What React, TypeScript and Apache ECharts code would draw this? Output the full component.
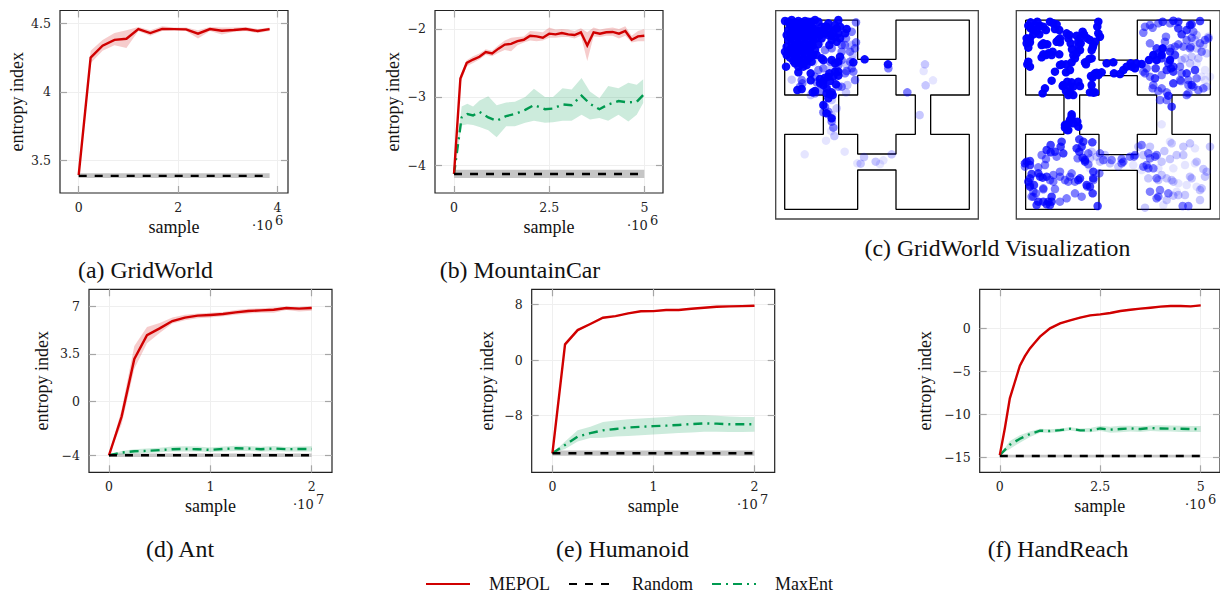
import React, { useEffect, useRef } from "react";
import * as echarts from "echarts";

const RED = "#d00000";
const GREEN = "#009a50";
const SERIF = "'Liberation Serif', serif";
const TICKFONT = "'DejaVu Serif', serif";

// (a) GridWorld
const aX = [0, 0.24, 0.48, 0.72, 0.96, 1.2, 1.44, 1.68, 1.92, 2.16, 2.4, 2.64, 2.88, 3.12, 3.36, 3.6, 3.84];
const aRed = [3.39, 4.25, 4.337, 4.38, 4.388, 4.459, 4.43, 4.46, 4.459, 4.457, 4.425, 4.459, 4.447, 4.452, 4.46, 4.445, 4.459];
const aRedLow = [3.39, 4.21, 4.3, 4.34, 4.32, 4.445, 4.41, 4.445, 4.45, 4.445, 4.39, 4.445, 4.42, 4.44, 4.445, 4.43, 4.445];
const aRedHigh = [3.39, 4.3, 4.38, 4.43, 4.45, 4.475, 4.45, 4.48, 4.47, 4.47, 4.45, 4.475, 4.47, 4.47, 4.475, 4.46, 4.47];
const aRandom = 3.385;
const aRandomBand = [3.37, 3.405];

// (b) MountainCar
const bX = [0, 0.167, 0.333, 0.5, 0.667, 0.833, 1, 1.167, 1.333, 1.5, 1.667, 1.833, 2, 2.167, 2.333, 2.5, 2.667, 2.833, 3, 3.167, 3.333, 3.5, 3.667, 3.833, 4, 4.167, 4.333, 4.5, 4.667, 4.833, 5];
const bRed = [-4.13, -2.73, -2.5, -2.45, -2.41, -2.34, -2.36, -2.29, -2.23, -2.22, -2.18, -2.16, -2.1, -2.11, -2.13, -2.07, -2.08, -2.06, -2.08, -2.09, -2.05, -2.245, -2.05, -2.07, -2.05, -2.045, -2.07, -2.03, -2.16, -2.11, -2.1];
const bRedLow = [-4.13, -2.8, -2.55, -2.5, -2.45, -2.38, -2.4, -2.35, -2.31, -2.33, -2.24, -2.2, -2.17, -2.18, -2.17, -2.13, -2.13, -2.12, -2.12, -2.14, -2.1, -2.47, -2.11, -2.12, -2.1, -2.1, -2.14, -2.1, -2.2, -2.18, -2.18];
const bRedHigh = [-4.13, -2.68, -2.46, -2.4, -2.36, -2.3, -2.32, -2.24, -2.17, -2.13, -2.12, -2.11, -2.03, -2.04, -2.05, -1.98, -2.01, -2, -2.01, -2.03, -1.99, -2.05, -1.98, -2.01, -1.99, -1.98, -2, -1.96, -2.1, -2.03, -2];
const bGreenX = [0, 0.2, 0.35, 0.5, 0.67, 0.9, 1.12, 1.37, 1.6, 1.87, 2.1, 2.39, 2.6, 2.85, 3.09, 3.35, 3.57, 3.82, 4.05, 4.32, 4.58, 4.8, 4.97];
const bGreen = [-4.13, -3.3, -3.25, -3.27, -3.22, -3.3, -3.35, -3.28, -3.25, -3.19, -3.12, -3.18, -3.17, -3.11, -3.12, -2.98, -3.1, -3.18, -3.11, -3.06, -3.08, -3.07, -2.97];
const bGreenLow = [-4.13, -3.42, -3.4, -3.41, -3.44, -3.49, -3.59, -3.43, -3.43, -3.38, -3.35, -3.38, -3.37, -3.35, -3.35, -3.26, -3.33, -3.31, -3.35, -3.26, -3.36, -3.26, -3.09];
const bGreenHigh = [-4.13, -3.14, -3.1, -3.14, -3.05, -2.99, -3.12, -3.08, -3.07, -3, -2.88, -3, -3, -2.87, -2.89, -2.72, -2.92, -3.02, -2.84, -2.87, -2.79, -2.82, -2.74];
const bRandom = -4.13;
const bRandomBand = [-4.19, -4.07];

// (d) Ant
const dX = [0, 0.125, 0.25, 0.375, 0.5, 0.625, 0.75, 0.875, 1, 1.125, 1.25, 1.375, 1.5, 1.625, 1.75, 1.875, 2];
const dRed = [-4, -1.13, 3.13, 4.9, 5.4, 5.94, 6.19, 6.34, 6.39, 6.46, 6.58, 6.68, 6.73, 6.78, 6.9, 6.86, 6.9];
const dRedLow = [-4, -1.7, 2.4, 4.3, 5.05, 5.75, 6, 6.15, 6.2, 6.3, 6.4, 6.5, 6.55, 6.55, 6.75, 6.65, 6.7];
const dRedHigh = [-4, -0.6, 4.1, 5.5, 5.8, 6.2, 6.4, 6.5, 6.55, 6.6, 6.75, 6.85, 6.88, 6.95, 7, 6.98, 7.05];
const dGreen = [-4, -3.8, -3.7, -3.67, -3.62, -3.55, -3.53, -3.55, -3.6, -3.53, -3.48, -3.5, -3.55, -3.5, -3.55, -3.53, -3.53];
const dGreenLow = [-4, -3.95, -3.87, -3.83, -3.78, -3.72, -3.72, -3.72, -3.75, -3.72, -3.68, -3.68, -3.72, -3.7, -3.72, -3.72, -3.72];
const dGreenHigh = [-4, -3.68, -3.55, -3.5, -3.45, -3.35, -3.33, -3.35, -3.42, -3.35, -3.3, -3.32, -3.37, -3.32, -3.38, -3.35, -3.33];
const dRandom = -4;
const dRandomBand = [-4.13, -3.87];

// (e) Humanoid
const eX = dX;
const eRed = [-13.4, 2.25, 4.3, 5.17, 6.08, 6.3, 6.7, 7, 7.03, 7.18, 7.18, 7.37, 7.5, 7.66, 7.7, 7.75, 7.8];
const eRedLow = [-13.4, 2.0, 4.15, 5.05, 5.98, 6.2, 6.6, 6.9, 6.93, 7.08, 7.08, 7.27, 7.4, 7.56, 7.6, 7.65, 7.7];
const eRedHigh = [-13.4, 2.5, 4.45, 5.3, 6.18, 6.4, 6.8, 7.1, 7.13, 7.28, 7.28, 7.47, 7.6, 7.76, 7.8, 7.85, 7.9];
const eGreen = [-13.4, -12.2, -11, -10.5, -10.1, -9.9, -9.7, -9.6, -9.5, -9.43, -9.33, -9.2, -9.1, -9.14, -9.23, -9.23, -9.23];
const eGreenLow = [-13.4, -12.8, -11.7, -11.2, -11.15, -11, -10.9, -10.8, -10.7, -10.6, -10.5, -10.4, -10.3, -10.3, -10.35, -10.35, -10.3];
const eGreenHigh = [-13.4, -11.7, -10.1, -9.6, -8.9, -8.7, -8.5, -8.4, -8.3, -8.2, -8, -7.95, -7.95, -8, -8.1, -8.2, -8.2];
const eRandom = -13.4;
const eRandomBand = [-13.75, -13.0];

// (f) HandReach
const fX = [0, 0.125, 0.25, 0.375, 0.5, 0.625, 0.75, 0.875, 1, 1.25, 1.5, 1.75, 2, 2.25, 2.5, 2.75, 3, 3.25, 3.5, 3.75, 4, 4.25, 4.5, 4.75, 5];
const fRed = [-14.7, -11.6, -8.1, -6.2, -4.3, -3.2, -2.3, -1.6, -0.93, 0.04, 0.62, 0.97, 1.28, 1.55, 1.67, 1.82, 2.05, 2.2, 2.33, 2.44, 2.56, 2.64, 2.64, 2.6, 2.71];
const fRedLow = [-14.7, -11.75, -8.25, -6.35, -4.45, -3.35, -2.45, -1.72, -1.05, -0.06, 0.52, 0.87, 1.18, 1.45, 1.57, 1.72, 1.95, 2.1, 2.23, 2.34, 2.46, 2.54, 2.54, 2.5, 2.61];
const fRedHigh = [-14.7, -11.45, -7.95, -6.05, -4.15, -3.05, -2.15, -1.48, -0.81, 0.14, 0.72, 1.07, 1.38, 1.65, 1.77, 1.92, 2.15, 2.3, 2.43, 2.54, 2.66, 2.74, 2.74, 2.7, 2.81];
const fGreenX = [0, 0.25, 0.5, 0.75, 1, 1.25, 1.5, 1.75, 2, 2.25, 2.5, 2.75, 3, 3.25, 3.5, 3.75, 4, 4.25, 4.5, 4.75, 5];
const fGreen = [-14.7, -13.5, -12.8, -12.25, -11.86, -11.9, -11.8, -11.63, -11.82, -11.82, -11.6, -11.74, -11.67, -11.6, -11.67, -11.55, -11.6, -11.63, -11.63, -11.67, -11.67];
const fGreenLow = [-14.7, -14, -13.25, -12.6, -12.1, -12.1, -12, -11.85, -12.02, -12.05, -11.9, -12.1, -12.05, -11.95, -12, -11.9, -11.95, -11.95, -12, -12, -12];
const fGreenHigh = [-14.7, -13.05, -12.4, -11.95, -11.65, -11.7, -11.6, -11.45, -11.62, -11.55, -11.3, -11.4, -11.3, -11.3, -11.35, -11.25, -11.22, -11.25, -11.28, -11.32, -11.32];
const fRandom = -14.8;
const fRandomBand = [-14.95, -14.65];

// (c) GridWorld room walls
const wallsLeftOuter = [[44, 45], [263, 45], [263, 163], [378, 163], [378, 45], [598, 45], [598, 270], [482, 270], [482, 388], [598, 388], [598, 613], [378, 613], [378, 495], [263, 495], [263, 613], [44, 613], [44, 388], [160, 388], [160, 270], [44, 270], [44, 45]];
const wallsLeftInner = [[263, 211], [378, 211], [378, 270], [436, 270], [436, 388], [378, 388], [378, 447], [263, 447], [263, 388], [206, 388], [206, 270], [263, 270], [263, 211]];
const wallsRightOuter = [[47, 45], [267, 45], [267, 165], [382, 165], [382, 45], [601, 45], [601, 270], [486, 270], [486, 388], [601, 388], [601, 613], [382, 613], [382, 496], [267, 496], [267, 613], [47, 613], [47, 388], [162, 388], [162, 270], [47, 270], [47, 45]];
const wallsRightInner = [[267, 212], [382, 212], [382, 270], [440, 270], [440, 388], [382, 388], [382, 449], [267, 449], [267, 388], [209, 388], [209, 270], [267, 270], [267, 212]];

const leftDense = [[45, 48], [65, 45], [85, 48], [105, 48], [135, 45], [60, 60], [80, 60], [100, 60], [120, 62], [55, 75], [75, 75], [95, 75], [115, 78], [135, 72], [50, 90], [70, 92], [90, 90], [110, 92], [130, 90], [55, 105], [75, 108], [95, 105], [115, 108], [130, 105], [50, 125], [70, 125], [90, 122], [110, 125], [128, 122], [45, 140], [62, 142], [82, 140], [100, 142], [120, 140], [60, 158], [80, 158], [100, 160], [120, 158], [75, 175], [95, 178], [110, 180], [48, 185], [140, 150], [155, 65], [175, 55], [195, 60], [205, 45], [165, 85], [180, 75], [200, 70], [185, 92], [205, 85], [150, 90], [230, 72], [160, 165], [185, 165], [205, 170], [85, 202], [122, 205], [122, 226], [150, 222], [165, 218], [178, 205], [195, 200], [205, 212], [198, 238], [160, 240], [180, 268], [170, 265], [188, 270], [128, 262], [82, 255], [95, 252], [250, 172], [284, 163], [354, 178],
  [55, 50], [75, 52], [95, 52], [115, 50], [125, 50], [145, 50], [165, 65], [70, 68], [90, 68], [110, 68], [128, 68], [145, 78], [60, 84], [80, 84], [100, 84], [120, 84], [140, 84], [60, 98], [85, 98], [105, 98], [125, 98], [140, 100], [65, 115], [85, 115], [105, 115], [125, 115], [145, 118], [60, 133], [80, 132], [100, 132], [120, 132], [135, 135], [50, 150], [72, 150], [92, 150], [112, 150], [130, 150], [70, 168], [90, 168], [110, 168], [125, 170], [85, 185], [100, 185], [155, 160], [160, 75], [175, 90], [190, 78], [195, 95], [210, 65], [170, 65], [155, 100], [185, 105], [210, 100], [225, 85], [200, 110], [178, 120], [195, 175], [210, 155], [150, 235], [160, 228], [175, 215], [205, 200], [190, 215], [180, 228], [135, 258], [170, 250], [175, 280], [185, 262], [160, 300], [170, 325], [185, 340]];
const leftMedium = [[245, 80], [258, 52], [228, 100], [165, 135], [185, 130], [215, 140], [215, 120], [258, 112], [205, 180], [230, 198], [250, 200], [255, 225], [140, 232], [97, 235], [215, 245], [150, 258], [165, 305], [160, 322], [175, 320], [185, 350], [190, 368], [355, 190], [412, 262],
  [225, 120], [240, 140], [255, 130], [215, 165], [240, 170], [180, 170], [200, 195], [225, 205], [245, 190], [145, 195], [135, 215], [95, 225], [90, 245], [205, 245], [135, 265], [160, 190]];
const leftLight = [[150, 110], [130, 172], [185, 185], [248, 150], [230, 180], [245, 120], [65, 224], [232, 240], [228, 262], [122, 270], [185, 285], [200, 310], [185, 330], [193, 393], [282, 456], [272, 476], [317, 470], [365, 448], [465, 178], [467, 241], [449, 330]];
const leftPale = [[240, 125], [248, 165], [168, 407], [183, 378], [224, 440], [262, 475], [340, 466], [330, 477], [489, 226], [461, 198], [104, 448]];

const rightDense = [[62, 52], [82, 50], [62, 70], [75, 60], [100, 65], [108, 75], [130, 55], [135, 72], [148, 75], [50, 100], [70, 88], [80, 78], [88, 88], [60, 112], [55, 128], [100, 115], [112, 118], [145, 105], [150, 100], [170, 85], [178, 90], [200, 92], [218, 80], [232, 100], [265, 50], [262, 65], [270, 95], [250, 120], [248, 128], [212, 115], [205, 125], [182, 115], [186, 133], [128, 140], [115, 145], [108, 150], [95, 157], [148, 148], [200, 145], [195, 160], [245, 160], [238, 162], [52, 178], [155, 178], [168, 178], [185, 172], [228, 178], [168, 202], [135, 200], [125, 227], [158, 243], [185, 232], [180, 245], [210, 243], [248, 218], [243, 213], [260, 203], [275, 202], [105, 250], [98, 265], [168, 258], [175, 270], [190, 270], [240, 262], [250, 263], [310, 172], [340, 195], [312, 205], [330, 207], [362, 175], [375, 190], [395, 177], [185, 335], [175, 355], [202, 350], [165, 368], [205, 365], [172, 375], [458, 130], [455, 150], [430, 150], [440, 165], [417, 165], [480, 165],
  [55, 62], [70, 75], [90, 62], [120, 50], [140, 58], [60, 100], [50, 115], [105, 118], [95, 120], [140, 110], [150, 112], [175, 100], [210, 100], [222, 88], [240, 105], [265, 85], [255, 110], [245, 135], [190, 150], [205, 110], [210, 135], [125, 150], [100, 148], [55, 170], [60, 185], [150, 180], [180, 195], [225, 172], [160, 240], [172, 230], [190, 245], [205, 230], [245, 240], [255, 205], [265, 210], [290, 175], [350, 185], [380, 175], [365, 185], [180, 345], [190, 355], [185, 328], [165, 360], [175, 375], [255, 262], [180, 262]];
const rightStrong = [[458, 50], [490, 47], [570, 48], [545, 58], [530, 75], [515, 88], [495, 150], [483, 190], [490, 200], [437, 190], [490, 235], [435, 220], [555, 195], [530, 205], [545, 240], [475, 272], [485, 305], [122, 420], [155, 410], [152, 425], [122, 442], [160, 445], [60, 468], [50, 470], [65, 507], [55, 530], [72, 540], [98, 518], [110, 515], [85, 590], [110, 598], [125, 575], [120, 600], [208, 403], [220, 410], [247, 412], [208, 440], [218, 458], [225, 470], [210, 520], [248, 565], [263, 603],
  [440, 130], [445, 145], [475, 175], [490, 185], [480, 140], [505, 70], [540, 60], [505, 50], [455, 160], [470, 195], [135, 440], [110, 435], [45, 475], [60, 480], [85, 505], [60, 545], [60, 520], [90, 515], [205, 525], [115, 590], [100, 590], [80, 600], [125, 590], [250, 520], [250, 500], [240, 545], [230, 540], [215, 425], [200, 430], [225, 465]];
const rightMedium = [[405, 65], [428, 68], [400, 83], [468, 95], [445, 55], [505, 118], [542, 125], [482, 130], [420, 115], [545, 98], [570, 115], [595, 100], [575, 140], [510, 185], [535, 225], [513, 228], [560, 220], [405, 205], [420, 215], [455, 210], [428, 250], [445, 258], [470, 262], [535, 265], [565, 255], [530, 270], [450, 285], [470, 285], [140, 455], [95, 450], [108, 462], [203, 460], [45, 485], [85, 487], [105, 480], [78, 565], [120, 525], [150, 500], [180, 515], [130, 530], [195, 530], [150, 590], [170, 580], [195, 565], [215, 575], [232, 545], [250, 525], [268, 505], [235, 478], [100, 553], [135, 552], [70, 575], [415, 445], [435, 455], [400, 485], [415, 490], [445, 575], [450, 555], [518, 603], [535, 603], [335, 475], [372, 455], [335, 462],
  [420, 60], [480, 55], [550, 80], [530, 105], [585, 105], [520, 125], [540, 130], [465, 110], [495, 125], [410, 190], [400, 200], [430, 240], [455, 250], [515, 205], [535, 240], [550, 245], [580, 250], [510, 225], [60, 540], [70, 560], [65, 575], [100, 550], [130, 510], [150, 515], [165, 525], [185, 505], [175, 530], [235, 445], [270, 445], [280, 465], [305, 465], [340, 470], [360, 455], [375, 450], [395, 420], [420, 460], [440, 450], [410, 480], [430, 490], [440, 520], [420, 560], [475, 565], [440, 580]];
const rightLight = [[463, 438], [480, 462], [540, 415], [520, 450], [455, 510], [445, 525], [415, 520], [485, 525], [540, 515], [580, 492], [585, 515], [570, 555], [570, 585], [525, 570], [490, 572], [470, 585], [405, 608], [600, 425], [485, 415], [270, 470], [300, 475], [245, 440], [495, 55], [560, 90], [595, 95], [565, 160], [515, 165], [545, 155], [385, 425], [400, 450], [420, 425],
  [500, 450], [520, 425], [560, 470], [590, 500], [545, 520], [575, 550], [490, 530], [505, 570], [470, 520], [455, 470], [240, 460], [260, 455], [285, 450], [325, 485], [555, 105], [580, 120], [590, 145], [560, 130], [525, 160], [540, 175], [590, 245]];
const rightPale = [[585, 195], [600, 215], [575, 215], [585, 225], [560, 175], [455, 358], [490, 490], [445, 490], [555, 430], [555, 475], [525, 480], [505, 535], [530, 540], [560, 545], [460, 600], [480, 410], [395, 495], [240, 490], [290, 465], [370, 480], [500, 560]];

const LEGEND_NAMES = ["MEPOL", "Random", "MaxEnt"];

type Panel = {
  left: number; width: number; top: number; height: number;
  xMin: number; xMax: number; yMin: number; yMax: number;
  xTicks: number[]; yTicks: number[];
  xEnd: number; exponent: string; expX: number; yNameGap: number;
  red: { x: number[]; y: number[]; low: number[]; high: number[] };
  green?: { x: number[]; y: number[]; low: number[]; high: number[] };
  random: number; randomBand: number[];
};

const panels: Panel[] = [
  { left: 60, width: 228, top: 10.5, height: 182.5, xMin: -0.376, xMax: 4.21, yMin: 3.26, yMax: 4.595, xTicks: [0, 2, 4], yTicks: [3.5, 4, 4.5], xEnd: 3.84, exponent: "6", expX: 252, yNameGap: 34,
    red: { x: aX, y: aRed, low: aRedLow, high: aRedHigh }, random: aRandom, randomBand: aRandomBand },
  { left: 435, width: 228, top: 10.5, height: 182.5, xMin: -0.5, xMax: 5.49, yMin: -4.41, yMax: -1.73, xTicks: [0, 2.5, 5], yTicks: [-4, -3, -2], xEnd: 5, exponent: "6", expX: 627, yNameGap: 33,
    red: { x: bX, y: bRed, low: bRedLow, high: bRedHigh }, green: { x: bGreenX, y: bGreen, low: bGreenLow, high: bGreenHigh }, random: bRandom, randomBand: bRandomBand },
  { left: 89, width: 243, top: 289.3, height: 183, xMin: -0.197, xMax: 2.2, yMin: -5.26, yMax: 8.29, xTicks: [0, 1, 2], yTicks: [-4, 0, 3.5, 7], xEnd: 2, exponent: "7", expX: 293, yNameGap: 38,
    red: { x: dX, y: dRed, low: dRedLow, high: dRedHigh }, green: { x: dX, y: dGreen, low: dGreenLow, high: dGreenHigh }, random: dRandom, randomBand: dRandomBand },
  { left: 531.7, width: 243, top: 289.3, height: 183, xMin: -0.205, xMax: 2.2, yMin: -16.13, yMax: 10.16, xTicks: [0, 1, 2], yTicks: [-8, 0, 8], xEnd: 2, exponent: "7", expX: 737, yNameGap: 36,
    red: { x: eX, y: eRed, low: eRedLow, high: eRedHigh }, green: { x: eX, y: eGreen, low: eGreenLow, high: eGreenHigh }, random: eRandom, randomBand: eRandomBand },
  { left: 979.7, width: 243, top: 289.3, height: 183, xMin: -0.5, xMax: 5.48, yMin: -16.7, yMax: 4.58, xTicks: [0, 2.5, 5], yTicks: [-15, -10, -5, 0], xEnd: 5, exponent: "6", expX: 1185, yNameGap: 46,
    red: { x: fX, y: fRed, low: fRedLow, high: fRedHigh }, green: { x: fGreenX, y: fGreen, low: fGreenLow, high: fGreenHigh }, random: fRandom, randomBand: fRandomBand },
];

const captions = [
  { text: "(a) GridWorld", x: 145.5, y: 270 },
  { text: "(b) MountainCar", x: 520, y: 270 },
  { text: "(c) GridWorld Visualization", x: 997.5, y: 248 },
  { text: "(d) Ant", x: 180, y: 549 },
  { text: "(e) Humanoid", x: 622.5, y: 549 },
  { text: "(f) HandReach", x: 1058, y: 549 },
];

const fmt = (v: number) => String(v).replace("-", "\u2212");

function bandSeries(xs: number[], low: number[], high: number[], color: string, xi: number, yi: number, z: number) {
  const data = xs.map((x, i) => [x, low[i], high[i]]);
  return {
    type: "custom", xAxisIndex: xi, yAxisIndex: yi, z, silent: true, clip: true,
    encode: { x: 0, y: [1, 2] }, data,
    renderItem: (params: any, api: any) => {
      if (params.dataIndex !== 0) return null;
      const top = data.map((d) => api.coord([d[0], d[2]]));
      const bottom = data.map((d) => api.coord([d[0], d[1]])).reverse();
      return { type: "polygon", shape: { points: top.concat(bottom) }, style: { fill: color, stroke: "none" } };
    },
  };
}

function lineSeries(name: string, data: number[][], color: string, type: any, width: number, xi: number, yi: number, z: number) {
  return {
    name, type: "line", xAxisIndex: xi, yAxisIndex: yi, z, data, symbol: "none", showSymbol: false, silent: true,
    lineStyle: { color, type, width, cap: "butt", join: "miter" }, itemStyle: { color },
  };
}

function buildOption() {
  const grid: any[] = [];
  const xAxis: any[] = [];
  const yAxis: any[] = [];
  const series: any[] = [];
  const graphic: any[] = [];

  panels.forEach((p) => {
    const g = grid.length;
    grid.push({ left: p.left, top: p.top, width: p.width, height: p.height, show: true, borderColor: "#222", borderWidth: 1.2, backgroundColor: "#fff", containLabel: false });
    const xi = xAxis.length;
    const yi = yAxis.length;
    const common = { type: "value", gridIndex: g, scale: true };
    const tick = { show: true, inside: true, length: 7, lineStyle: { color: "#a6a6a6", width: 1.2 } };
    const noLine = { show: false, onZero: false };
    xAxis.push({
      ...common, min: p.xMin, max: p.xMax, position: "bottom", name: "sample", nameLocation: "middle", nameGap: 25,
      nameTextStyle: { fontFamily: SERIF, fontSize: 18, color: "#111" },
      axisLine: noLine, axisTick: { ...tick, customValues: p.xTicks },
      axisLabel: { customValues: p.xTicks, formatter: fmt, fontFamily: TICKFONT, fontSize: 12.5, color: "#222", margin: 8 },
      splitLine: { show: true, lineStyle: { color: "#efefef", width: 1 } },
    });
    xAxis.push({
      ...common, min: p.xMin, max: p.xMax, position: "top", axisLine: noLine, axisTick: { ...tick, customValues: p.xTicks },
      axisLabel: { show: false, customValues: p.xTicks }, splitLine: { show: false },
    });
    yAxis.push({
      ...common, min: p.yMin, max: p.yMax, position: "left", name: "entropy index", nameLocation: "middle", nameGap: p.yNameGap,
      nameTextStyle: { fontFamily: SERIF, fontSize: 18, color: "#111" },
      axisLine: noLine, axisTick: { ...tick, customValues: p.yTicks },
      axisLabel: { customValues: p.yTicks, formatter: fmt, fontFamily: TICKFONT, fontSize: 12.5, color: "#222", margin: 9 },
      splitLine: { show: true, lineStyle: { color: "#efefef", width: 1 } },
    });
    yAxis.push({
      ...common, min: p.yMin, max: p.yMax, position: "right", axisLine: noLine, axisTick: { ...tick, customValues: p.yTicks },
      axisLabel: { show: false, customValues: p.yTicks }, splitLine: { show: false },
    });

    series.push(bandSeries([0, p.xEnd], [p.randomBand[0], p.randomBand[0]], [p.randomBand[1], p.randomBand[1]], "#c6c6c6", xi, yi, 2));
    if (p.green) series.push(bandSeries(p.green.x, p.green.low, p.green.high, "rgba(0,154,80,0.2)", xi, yi, 2));
    series.push(bandSeries(p.red.x, p.red.low, p.red.high, "rgba(208,0,0,0.2)", xi, yi, 2));
    if (p.green) series.push(lineSeries("MaxEnt", p.green.x.map((x, i) => [x, p.green!.y[i]]), GREEN, [9, 5, 2, 5], 2.4, xi, yi, 4));
    series.push(lineSeries("MEPOL", p.red.x.map((x, i) => [x, p.red.y[i]]), RED, "solid", 2.4, xi, yi, 5));
    series.push(lineSeries("Random", [[0, p.random], [p.xEnd, p.random]], "#000", [8, 8], 2.4, xi, yi, 6));

    const bottom = p.top + p.height;
    graphic.push({ type: "text", x: p.expX, y: bottom + 32, style: { text: "\u00b710", fontFamily: TICKFONT, fontSize: 13, fill: "#222", textVerticalAlign: "middle" } });
    graphic.push({ type: "text", x: p.expX + 23, y: bottom + 27, style: { text: p.exponent, fontFamily: TICKFONT, fontSize: 13, fill: "#222", textVerticalAlign: "middle" } });
  });

  const rooms = [
    { left: 775.7, width: 202.6, xMin: 17, xMax: 625, outer: wallsLeftOuter, inner: wallsLeftInner,
      groups: [[leftPale, 0.1], [leftLight, 0.22], [leftMedium, 0.5], [leftDense, 0.95]] as [number[][], number][] },
    { left: 1016.3, width: 203.7, xMin: 19, xMax: 630, outer: wallsRightOuter, inner: wallsRightInner,
      groups: [[rightPale, 0.1], [rightLight, 0.22], [rightMedium, 0.5], [rightStrong, 0.75], [rightDense, 0.98]] as [number[][], number][] },
  ];
  rooms.forEach((r) => {
    const g = grid.length;
    grid.push({ left: r.left, top: 10.7, width: r.width, height: 208.3, show: true, borderColor: "#444", borderWidth: 1.3, backgroundColor: "#fff" });
    const xi = xAxis.length;
    const yi = yAxis.length;
    xAxis.push({ type: "value", gridIndex: g, min: r.xMin, max: r.xMax, show: false });
    yAxis.push({ type: "value", gridIndex: g, min: 17, max: 642, inverse: true, show: false });
    [r.outer, r.inner].forEach((w) => {
      series.push({ type: "line", xAxisIndex: xi, yAxisIndex: yi, z: 2, data: w, symbol: "none", silent: true, lineStyle: { color: "#000", width: 1.3 } });
    });
    r.groups.forEach(([pts, alpha]) => {
      series.push({ type: "scatter", xAxisIndex: xi, yAxisIndex: yi, z: 3, data: pts, symbolSize: 8.5, silent: true, itemStyle: { color: "#0000ff", opacity: alpha, borderWidth: 0 } });
    });
  });

  captions.forEach((c) => {
    graphic.push({ type: "text", x: c.x, y: c.y, style: { text: c.text, fontFamily: SERIF, fontSize: 23.8, fill: "#111", textAlign: "center", textVerticalAlign: "middle" } });
  });

  return {
    animation: false,
    backgroundColor: "#fff",
    grid, xAxis, yAxis, series, graphic,
    legend: {
      data: LEGEND_NAMES, left: 425, top: 575, padding: 0, itemWidth: 44, itemHeight: 20, itemGap: 18, selectedMode: false,
      itemStyle: { opacity: 0 },
      textStyle: { fontFamily: SERIF, fontSize: 18, color: "#111", padding: [0, 0, 0, 14] },
    },
  };
}

export default function App() {
  const ref = useRef<HTMLDivElement>(null);
  useEffect(() => {
    const chart = echarts.init(ref.current!, undefined, { renderer: "svg" });
    chart.setOption(buildOption() as any);
    return () => chart.dispose();
  }, []);
  return <div ref={ref} style={{ position: "absolute", left: 0, top: 0, width: 1220, height: 595 }} />;
}
